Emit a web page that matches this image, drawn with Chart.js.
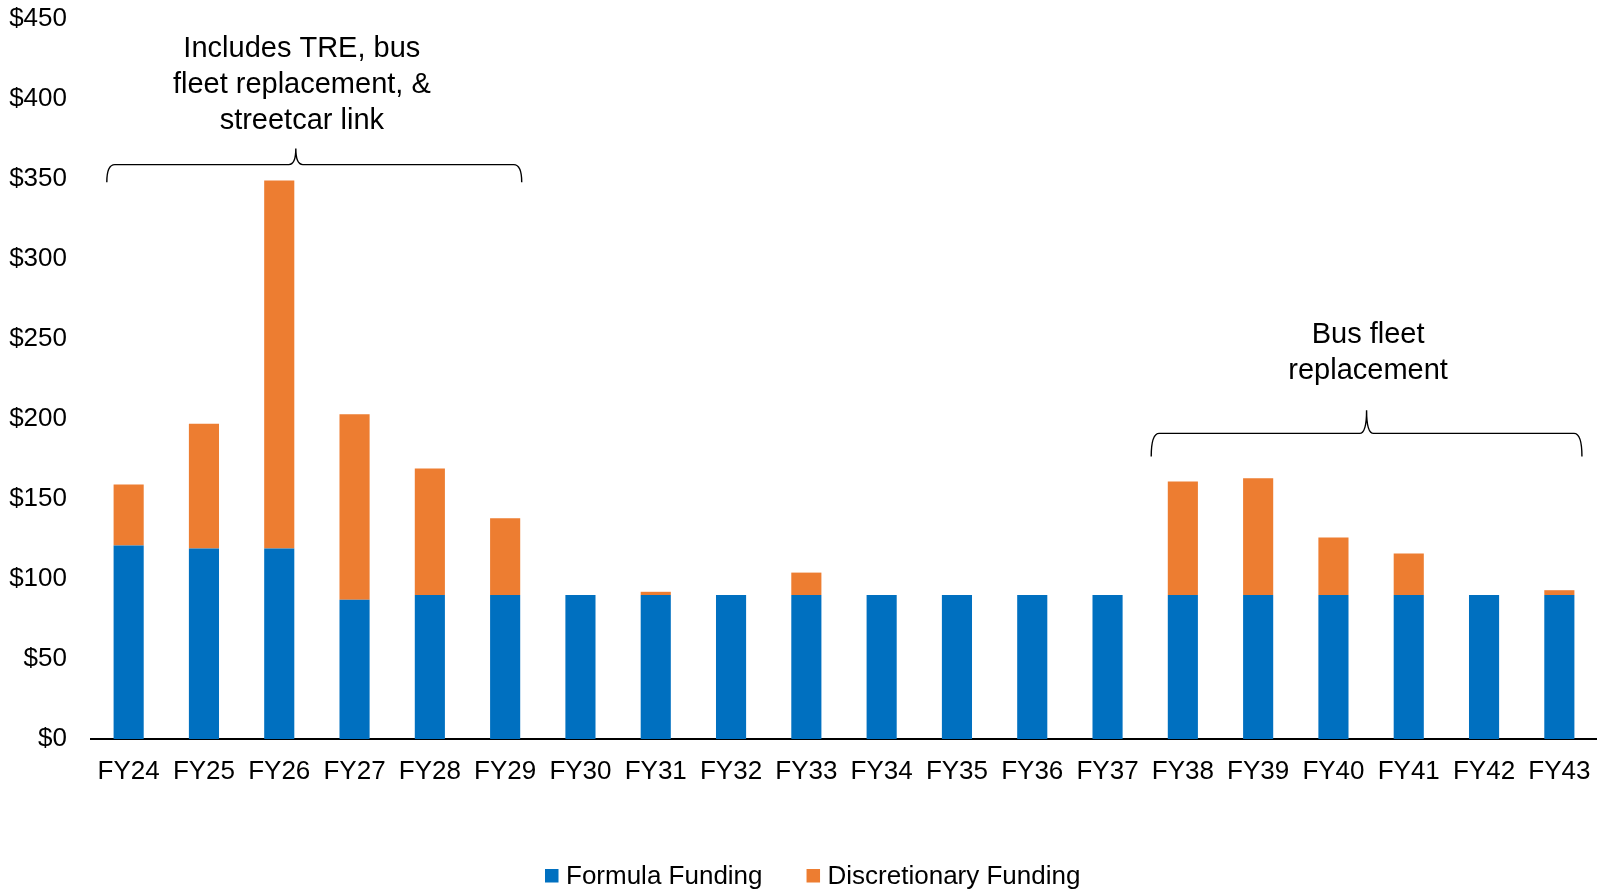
<!DOCTYPE html>
<html>
<head>
<meta charset="utf-8">
<title>Formula and Discretionary Funding</title>
<script src="https://cdn.jsdelivr.net/npm/chart.js@4.4.1/dist/chart.umd.min.js"></script>
<style>
  html, body { margin: 0; padding: 0; background: #fff; }
  #wrap { width: 1597px; height: 890px; }
</style>
</head>
<body>
<div id="wrap"><canvas id="fundingChart" width="1597" height="890"></canvas></div>
<script>
  'use strict'

  //-------------
  // - DATA -
  //-------------
  const fiscalYears = ['FY24', 'FY25', 'FY26', 'FY27', 'FY28', 'FY29', 'FY30', 'FY31', 'FY32', 'FY33',
                       'FY34', 'FY35', 'FY36', 'FY37', 'FY38', 'FY39', 'FY40', 'FY41', 'FY42', 'FY43'];
  const formulaFunding = [121, 119, 119, 87, 90, 90, 90, 90, 90, 90,
                          90, 90, 90, 90, 90, 90, 90, 90, 90, 90];
  const discretionaryFunding = [38, 78, 230, 116, 79, 48, 0, 2, 0, 14,
                                0, 0, 0, 0, 71, 73, 36, 26, 0, 3];
  const yTicks = [0, 50, 100, 150, 200, 250, 300, 350, 400, 450];

  const colors = ['#0070C0', '#ED7D31'];
  const fontFamily = "'Liberation Sans', Arial, sans-serif";

  // brace notes: x in category index units, y in dollar values
  const notes = [
    { lines: ['Includes TRE, bus', 'fleet replacement, &', 'streetcar link'],
      textX: 2.30, textY: 431, from: -0.29, to: 5.22, tip: 2.22, lineY: 359, endY: 348, tipY: 369 },
    { lines: ['Bus fleet', 'replacement'],
      textX: 16.46, textY: 252.5, from: 13.58, to: 19.30, tip: 16.44, lineY: 191, endY: 176.5, tipY: 205.5 }
  ];

  //-------------
  // - PLUGINS -
  //-------------
  function drawBrace(ctx, x1, x2, xm, yEnd, yLine, yTip) {
    ctx.beginPath();
    ctx.moveTo(x1, yEnd);
    ctx.quadraticCurveTo(x1, yLine, x1 + 8, yLine);
    ctx.lineTo(xm - 7, yLine);
    ctx.quadraticCurveTo(xm, yLine, xm, yTip);
    ctx.moveTo(x2, yEnd);
    ctx.quadraticCurveTo(x2, yLine, x2 - 8, yLine);
    ctx.lineTo(xm + 7, yLine);
    ctx.quadraticCurveTo(xm, yLine, xm, yTip);
    ctx.stroke();
  }

  const notesPlugin = {
    id: 'braceNotes',
    afterDatasetsDraw(chart) {
      const ctx = chart.ctx;
      const xs = chart.scales.x;
      const ys = chart.scales.y;
      const cw = xs.getPixelForValue(1) - xs.getPixelForValue(0);
      const px = i => xs.getPixelForValue(0) + i * cw;
      ctx.save();
      ctx.strokeStyle = '#000';
      ctx.lineWidth = 1.4;
      ctx.fillStyle = '#000';
      ctx.font = '29px ' + fontFamily;
      ctx.textAlign = 'center';
      ctx.textBaseline = 'middle';
      notes.forEach(n => {
        drawBrace(ctx, px(n.from), px(n.to), px(n.tip),
                  ys.getPixelForValue(n.endY), ys.getPixelForValue(n.lineY), ys.getPixelForValue(n.tipY));
        n.lines.forEach((t, k) => {
          ctx.fillText(t, px(n.textX), ys.getPixelForValue(n.textY) + k * 36);
        });
      });
      ctx.restore();
    }
  };

  const legendPlugin = {
    id: 'plainLegend',
    afterDraw(chart) {
      const ctx = chart.ctx;
      let x = 545;
      const y = 876;
      ctx.save();
      ctx.font = '26px ' + fontFamily;
      ctx.textAlign = 'left';
      ctx.textBaseline = 'middle';
      chart.data.datasets.forEach(ds => {
        ctx.fillStyle = ds.backgroundColor;
        ctx.fillRect(x, y - 7, 13.5, 13.5);
        ctx.fillStyle = '#000';
        ctx.fillText(ds.label, x + 21, y + 1);
        x += 21 + ctx.measureText(ds.label).width + 44;
      });
      ctx.restore();
    }
  };

  //--------------------
  //-  Stacked Bar Chart  -
  //--------------------
  const dataFunding = {
    labels: fiscalYears,
    datasets: [{
      label: 'Formula Funding',
      backgroundColor: colors[0],
      data: formulaFunding
    }, {
      label: 'Discretionary Funding',
      backgroundColor: colors[1],
      data: discretionaryFunding
    }]
  };

  const configFunding = {
    type: 'bar',
    data: dataFunding,
    plugins: [notesPlugin, legendPlugin],
    options: {
      responsive: false,
      animation: false,
      devicePixelRatio: 1,
      barPercentage: 0.4,
      categoryPercentage: 1,
      layout: { autoPadding: false, padding: { top: 19, right: 0, bottom: 106, left: 0 } },
      plugins: {
        legend: { display: false },
        tooltip: { enabled: false }
      },
      scales: {
        x: {
          stacked: true,
          afterFit: axis => {
            axis.height = 45;
            axis.paddingLeft = 0;
            axis.paddingRight = 0;
          },
          grid: { display: false, drawTicks: false },
          border: { display: true, color: '#000', width: 2 },
          ticks: {
            color: '#000',
            padding: 17,
            maxRotation: 0,
            autoSkip: false,
            font: { family: fontFamily, size: 26 }
          }
        },
        y: {
          stacked: true,
          min: 0,
          max: 450,
          afterBuildTicks: axis => { axis.ticks = yTicks.map(v => ({ value: v })); },
          afterFit: axis => {
            axis.width = 91;
            axis.paddingTop = 0;
            axis.paddingBottom = 0;
          },
          grid: { display: false, drawTicks: false },
          border: { display: false },
          ticks: {
            color: '#000',
            padding: 24,
            font: { family: fontFamily, size: 26 },
            callback: v => '$' + v
          }
        }
      }
    }
  };

  const fundingChart = new Chart(document.getElementById('fundingChart'), configFunding);
</script>
</body>
</html>
